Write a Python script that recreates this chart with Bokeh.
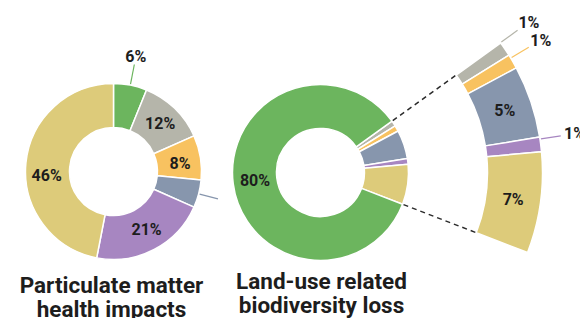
import numpy as np
from bokeh.plotting import figure
from bokeh.models import Range1d, ColumnDataSource
from bokeh.core.properties import value
from bokeh.embed import file_html
from bokeh.resources import INLINE

# ---------------- data ----------------
pm_title = ["Particulate matter", "health impacts"]
pm_segments = ["Segment A", "Segment B", "Segment C", "Segment D", "Segment E", "Segment F"]
pm_values = [6, 12, 8, 5, 21, 46]
pm_labels = ["6%", "12%", "8%", "", "21%", "46%"]

bio_title = ["Land-use related", "biodiversity loss"]
bio_segments = ["Segment B", "Segment C", "Segment D", "Segment E", "Segment F", "Segment A"]
bio_values = [1, 1, 5, 1, 7, 80]
bio_labels = ["1%", "1%", "5%", "1%", "7%", "80%"]

# ---------------- style ----------------
C = {"Segment A": "#6cb55e", "Segment B": "#b5b5aa", "Segment C": "#f8c260",
     "Segment D": "#8796ad", "Segment E": "#a786c1", "Segment F": "#ddcb7a"}
TXT = "#1d1d1d"
FONT = value("Roboto")

W, H = 580, 318
p = figure(width=W, height=H, output_backend="svg", toolbar_location=None,
           x_range=Range1d(0, W), y_range=Range1d(0, H),
           min_border=0, outline_line_color=None)
p.axis.visible = False
p.grid.visible = False
p.background_fill_color = "white"
p.border_fill_color = "white"

def py(y):  # page y -> data y
    return H - y

def pt(cx, cy, r, th):  # th: degrees clockwise from north
    t = np.radians(th)
    return cx + r * np.sin(t), cy + r * np.cos(t)

def ring(cx, cy, r0, r1, start, values, colors, subset=None):
    tot = float(sum(values))
    a0, a1 = [], []
    acc = start
    for v in values:
        a0.append(acc)
        acc += v / tot * 360.0
        a1.append(acc)
    idx = range(len(values)) if subset is None else subset
    src = ColumnDataSource(dict(
        start=[np.radians(90 - a1[i]) for i in idx],
        end=[np.radians(90 - a0[i]) for i in idx],
        color=[colors[i] for i in idx]))
    p.annular_wedge(x=cx, y=cy, inner_radius=r0, outer_radius=r1,
                    start_angle="start", end_angle="end", fill_color="color",
                    line_color="white", line_width=1.5, source=src)
    return a0, a1

def label(x, y, t, size="16px"):
    p.text(x=[x], y=[y], text=[t], text_font=FONT, text_font_size=size,
           text_font_style="bold", text_color=TXT, text_align="center",
           text_baseline="middle")

def leader(cx, cy, r0, r1, th, color):
    x0, y0 = pt(cx, cy, r0, th)
    x1, y1 = pt(cx, cy, r1, th)
    p.segment(x0=[x0], y0=[y0], x1=[x1], y1=[y1], line_color=color, line_width=1.2)

# ---------------- left donut ----------------
lcx, lcy = 113, py(171)
R0, R1 = 44, 88
a0, a1 = ring(lcx, lcy, R0, R1, 0.0, pm_values, [C[s] for s in pm_segments])
mids = [(s + e) / 2 for s, e in zip(a0, a1)]
nudge_l = [0, 0, 2, 0, -2, -9]
for i, lab in enumerate(pm_labels):
    m = mids[i] + nudge_l[i]
    if i == 0:
        leader(lcx, lcy, R1 + 1, R1 + 21, m, C[pm_segments[i]])
        x, y = pt(lcx, lcy, R1 + 29, m)
        label(x, y, lab)
    elif i == 3:
        leader(lcx, lcy, R1 + 1, R1 + 20, m, C[pm_segments[i]])
    else:
        x, y = pt(lcx, lcy, (R0 + R1) / 2 + 1, m)
        label(x, y, lab)

# ---------------- middle donut ----------------
mcx, mcy = 320, py(172)
START = 54.3
b0, b1 = ring(mcx, mcy, R0, R1, START, bio_values, [C[s] for s in bio_segments])
bm = [(s + e) / 2 for s, e in zip(b0, b1)]
x, y = pt(mcx, mcy, (R0 + R1) / 2, bm[5])
label(x, y, bio_labels[5])

# exploded ring of the small segments
E0, E1 = 167, 222
ring(mcx, mcy, E0, E1, START, bio_values, [C[s] for s in bio_segments], subset=range(5))
for th in (b0[0], b1[4]):
    xa, ya = pt(mcx, mcy, R1 + 1, th)
    xb, yb = pt(mcx, mcy, E0 - 1, th)
    p.segment(x0=[xa], y0=[ya], x1=[xb], y1=[yb], line_color="#2b2b2b",
              line_width=1.5, line_dash="5 4")
nudge_b = [-2, -1, 0, -1.4, 0]
for i in range(5):
    m = bm[i] + nudge_b[i]
    if bio_values[i] >= 5:
        x, y = pt(mcx, mcy, (E0 + E1) / 2, m)
        label(x, y, bio_labels[i])
    else:
        leader(mcx, mcy, E1 + 1, E1 + 21, m, C[bio_segments[i]])
        x, y = pt(mcx, mcy, E1 + 35, m)
        label(x, y, bio_labels[i])

# ---------------- titles ----------------
def title(cx, lines, mid1):
    for k, t in enumerate(lines):
        p.text(x=[cx], y=[py(mid1 + 24.5 * k)], text=[t], text_font=FONT,
               text_font_size="22.5px", text_font_style="bold", text_color=TXT,
               text_align="center", text_baseline="middle")

title(111, pm_title, 284)
title(321, bio_title, 280)

open("out.html", "w").write(file_html(p, INLINE))
